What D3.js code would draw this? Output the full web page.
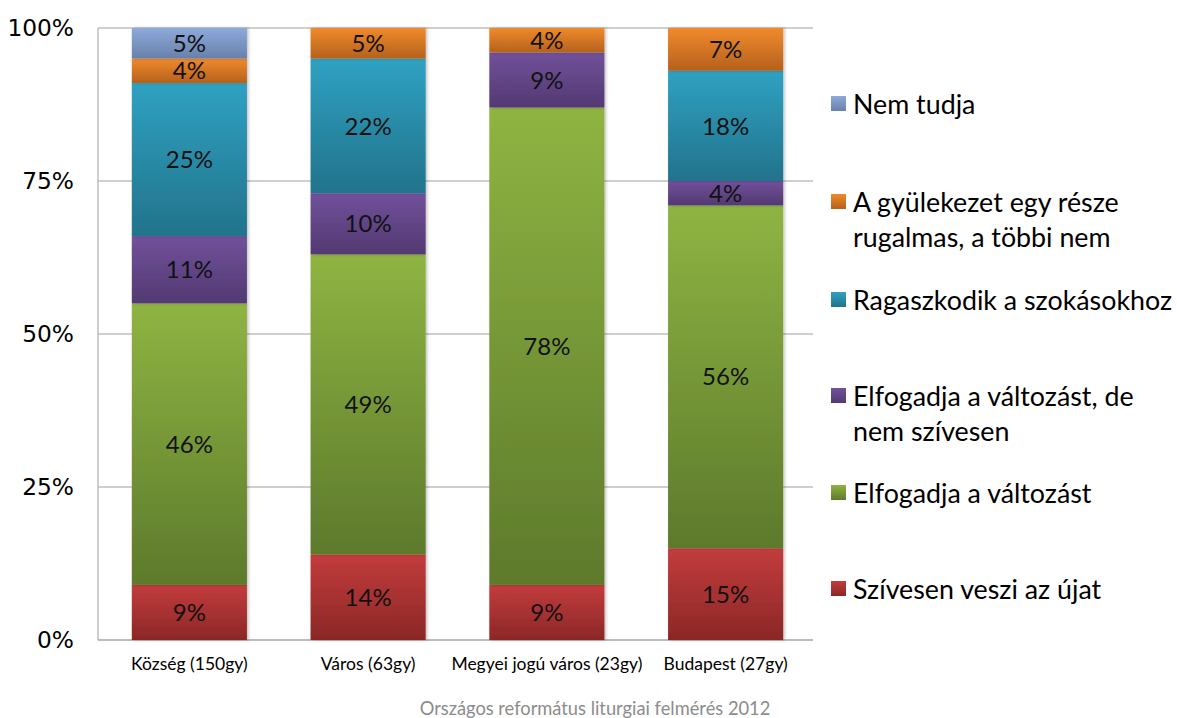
<!DOCTYPE html>
<html><head><meta charset="utf-8">
<script src="https://cdn.jsdelivr.net/npm/d3@7"></script>
<style>body{margin:0;background:#fff;} svg{display:block;}</style>
</head><body>
<script>
const categories = ["Község (150gy)", "Város (63gy)", "Megyei jogú város (23gy)", "Budapest (27gy)"];
const seriesNames = ["Szívesen veszi az újat", "Elfogadja a változást", "Elfogadja a változást, de nem szívesen", "Ragaszkodik a szokásokhoz", "A gyülekezet egy része rugalmas, a többi nem", "Nem tudja"];
const szivesen = [9, 14, 9, 15];
const elfogadja = [46, 49, 78, 56];
const deNem = [11, 10, 9, 4];
const ragaszkodik = [25, 22, 0, 18];
const reszben = [4, 5, 4, 7];
const nemTudja = [5, 0, 0, 0];
const yTicks = [0, 25, 50, 75, 100];
const footer = "Országos református liturgiai felmérés 2012";

const seriesValues = [szivesen, elfogadja, deNem, ragaszkodik, reszben, nemTudja];
const gradColors = [["#c33c3c","#8b2727"],["#8fb442","#5d7a2c"],["#71519b","#523971"],["#2fa1c2","#22738b"],["#f08a2b","#b5611d"],["#8eaadb","#6880aa"]];
const legendLines = [["Szívesen veszi az újat"],["Elfogadja a változást"],["Elfogadja a változást, de","nem szívesen"],["Ragaszkodik a szokásokhoz"],["A gyülekezet egy része","rugalmas, a többi nem"],["Nem tudja"]];
const legendY = [589, 493, 396, 300, 202, 104];

const W = 1177, H = 718;
const svg = d3.select("body").append("svg").attr("width", W).attr("height", H);
const defs = svg.append("defs");
gradColors.forEach((c, i) => {
  const g = defs.append("linearGradient").attr("id", "g" + i).attr("x1", 0).attr("y1", 0).attr("x2", 0).attr("y2", 1);
  g.append("stop").attr("offset", "0%").attr("stop-color", c[0]);
  g.append("stop").attr("offset", "100%").attr("stop-color", c[1]);
});
const flt = defs.append("filter").attr("id","sh").attr("x","-10%").attr("y","-10%").attr("width","130%").attr("height","130%");
flt.append("feDropShadow").attr("dx",1.5).attr("dy",0).attr("stdDeviation",1.5).attr("flood-color","#000").attr("flood-opacity",0.25);

const x = d3.scaleBand().domain(categories).range([100, 815]).paddingInner(0.356).paddingOuter(0.178);
const y = d3.scaleLinear().domain([0, 100]).range([640, 28]);

// gridlines
svg.append("g").selectAll("line").data(yTicks.filter(t => t > 0)).join("line")
  .attr("x1", 98).attr("x2", 813).attr("y1", d => y(d)).attr("y2", d => y(d))
  .attr("stroke", "#bfbfbf").attr("stroke-width", 1.3);

// y axis
const yAxis = d3.axisLeft(y).tickValues(yTicks).tickFormat(d => d + "%").tickSize(0).tickPadding(24);
const ga = svg.append("g").attr("transform", "translate(98,0)").call(yAxis);
ga.select(".domain").remove();
ga.selectAll("text").attr("font-family", "DejaVu Sans").attr("font-size", 23.3).attr("fill", "#000");

svg.append("line").attr("x1", 98).attr("x2", 98).attr("y1", 28).attr("y2", 640).attr("stroke", "#bfbfbf").attr("stroke-width", 1.5);
svg.append("line").attr("x1", 98).attr("x2", 813).attr("y1", 640).attr("y2", 640).attr("stroke", "#a6a6a6").attr("stroke-width", 1.5);

// stacked data
const table = categories.map((c, i) => {
  const o = { cat: c };
  seriesNames.forEach((s, j) => o[s] = seriesValues[j][i]);
  return o;
});
const stack = d3.stack().keys(seriesNames)(table);

const gb = svg.append("g");
stack.forEach((layer, j) => {
  gb.append("g").selectAll("rect").data(layer.filter(d => d[1] - d[0] > 0)).join("rect")
    .attr("x", d => x(d.data.cat)).attr("width", x.bandwidth())
    .attr("y", d => y(d[1])).attr("height", d => y(d[0]) - y(d[1]))
    .attr("fill", "url(#g" + j + ")").attr("filter","url(#sh)");
});
stack.forEach((layer, j) => {
  gb.append("g").selectAll("text").data(layer.filter(d => d[1] - d[0] > 0)).join("text")
    .attr("x", d => x(d.data.cat) + x.bandwidth() / 2)
    .attr("y", d => (y(d[0]) + y(d[1])) / 2)
    .attr("dy", "0.36em").attr("text-anchor", "middle")
    .attr("font-family", "Lato").attr("font-size", 24).attr("fill", "#111")
    .text(d => (d[1] - d[0]) + "%");
});

// x labels
const xAxis = d3.axisBottom(x).tickSize(0).tickPadding(18);
const gx = svg.append("g").attr("transform", "translate(0,640)").call(xAxis);
gx.select(".domain").remove();
gx.selectAll("text").attr("font-family", "Lato").attr("font-size", 17.5).attr("fill", "#000");

// legend
const gl = svg.append("g");
legendLines.forEach((lines, i) => {
  const ly = legendY[i];
  gl.append("rect").attr("x", 831).attr("y", ly - 8).attr("width", 15).attr("height", 15).attr("fill", "url(#g" + i + ")");
  lines.forEach((t, k) => {
    gl.append("text").attr("x", 853).attr("y", ly + k * 35).attr("dy", "0.36em")
      .attr("font-family", "Lato").attr("font-size", 26.8).attr("fill", "#000").text(t);
  });
});

svg.append("text").attr("x", 595).attr("y", 715).attr("text-anchor", "middle")
  .attr("font-family", "Lato").attr("font-size", 18.3).attr("fill", "#8c8c8c").text(footer);
</script>
</body></html>
